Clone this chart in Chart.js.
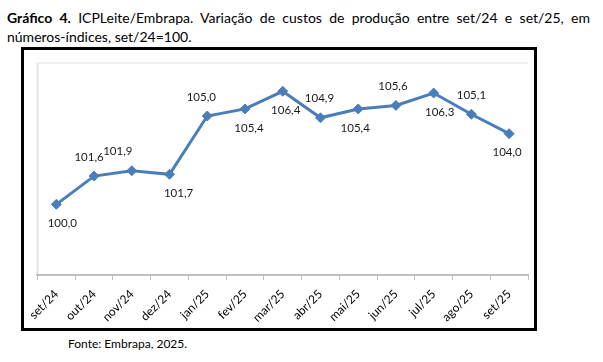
<!DOCTYPE html>
<html>
<head>
<meta charset="utf-8">
<script src="https://cdn.jsdelivr.net/npm/chart.js@4.4.0/dist/chart.umd.min.js"></script>
<style>
  body { margin: 0; background: #fff; width: 603px; height: 362px; position: relative; overflow: hidden; font-family: Lato, "Open Sans", sans-serif; }
  #titulo { position: absolute; left: 7px; top: 8px; width: 583px; font-size: 14px; line-height: 19px; color: #000; }
  #titulo .l1 { text-align: justify; text-align-last: justify; white-space: nowrap; }
  #caixa { position: absolute; left: 21px; top: 47px; width: 510px; height: 278px; border: 3px solid #000; background: #fff; }
  #fonte { position: absolute; left: 68px; top: 336px; font-size: 12px; color: #000; }
</style>
</head>
<body>
<div id="titulo">
  <div class="l1"><b>Gráfico 4.</b> ICPLeite/Embrapa. Variação de custos de produção entre set/24 e set/25, em</div>
  <div>números-índices, set/24=100.</div>
</div>
<div id="caixa"><canvas id="myChart" width="510" height="278"></canvas></div>
<div id="fonte">Fonte: Embrapa, 2025.</div>
<script>
// meses (eixo x)
var labels = ['set/24','out/24','nov/24','dez/24','jan/25','fev/25','mar/25','abr/25','mai/25','jun/25','jul/25','ago/25','set/25']
// indice, set/24=100
var indice = [100.0, 101.6, 101.9, 101.7, 105.0, 105.4, 106.4, 104.9, 105.4, 105.6, 106.3, 105.1, 104.0]

// onde fica cada rotulo (acima/abaixo do ponto) e pequeno deslocamento horizontal
var rotuloAcima = [false, true, true, false, true, false, false, true, false, true, false, true, false]
var rotuloDx = [6, -5, -14, 9, -6, 4, 3, -1, -3, -3, 6, 0, -2]

var fonteTxt = { family: 'Lato, "Open Sans", sans-serif', size: 12 }

const fundoArea = {
  id: 'fundoArea',
  beforeDraw(chart) {
    const a = chart.chartArea, ctx = chart.ctx
    ctx.save()
    ctx.strokeStyle = '#e4e4e4'
    ctx.lineWidth = 2
    ctx.beginPath()
    ctx.moveTo(a.left, a.bottom)
    ctx.lineTo(a.left, a.top)
    ctx.stroke()
    ctx.strokeStyle = '#f0f0f0'
    ctx.beginPath()
    ctx.moveTo(a.left, a.top)
    ctx.lineTo(a.right, a.top)
    ctx.stroke()
    ctx.restore()
  }
}

const rotulos = {
  id: 'rotulos',
  afterDatasetsDraw(chart) {
    const ctx = chart.ctx
    const meta = chart.getDatasetMeta(0)
    ctx.save()
    ctx.font = '11.5px Lato, "Open Sans", sans-serif'
    ctx.fillStyle = '#1a1a1a'
    ctx.textAlign = 'center'
    ctx.textBaseline = 'middle'
    meta.data.forEach((p, i) => {
      const txt = indice[i].toFixed(1).replace('.', ',')
      const dy = rotuloAcima[i] ? -19 : 19
      ctx.fillText(txt, p.x + rotuloDx[i], p.y + dy)
    })
    ctx.restore()
  }
}

const data = {
  labels: labels,
  datasets: [{
    label: 'ICPLeite',
    data: indice,
    borderColor: '#4a7ebb',
    backgroundColor: '#4a7ebb',
    borderWidth: 3,
    pointStyle: 'rectRot',
    pointRadius: 5,
    pointBorderWidth: 1,
    tension: 0
  }]
}

const config = {
  type: 'line',
  data: data,
  options: {
    responsive: false,
    animation: false,
    layout: { padding: { left: 13, top: 13, right: 0, bottom: 0 } },
    plugins: { legend: { display: false }, tooltip: { enabled: false } },
    scales: {
      x: {
        offset: true,
        grid: { offset: true, drawOnChartArea: false, tickLength: 5, color: '#c0c0c0', lineWidth: 1 },
        border: { color: '#c0c0c0', width: 2 },
        ticks: { minRotation: 45, maxRotation: 45, color: '#000', font: fonteTxt, padding: 7 },
        afterFit: s => { s.height = 53 }
      },
      y: { display: false, min: 96, max: 108 }
    }
  },
  plugins: [fundoArea, rotulos]
}

const myChart = new Chart(document.getElementById('myChart'), config)
</script>
</body>
</html>
